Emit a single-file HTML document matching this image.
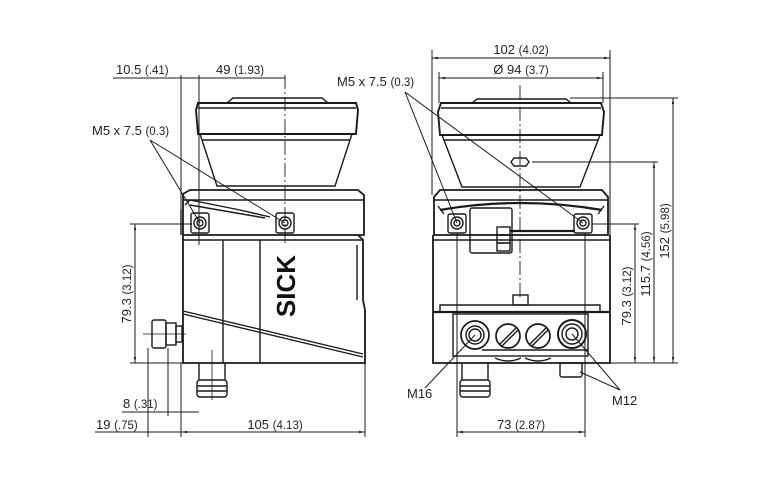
<!DOCTYPE html>
<html><head><meta charset="utf-8"><style>
html,body{margin:0;padding:0;background:#fff;width:768px;height:480px;overflow:hidden}
svg{display:block}
text{font-family:"Liberation Sans",sans-serif;fill:#222;font-size:13px}
.s{font-size:11.5px}
</style></head><body>
<svg width="768" height="480" viewBox="0 0 768 480" xmlns="http://www.w3.org/2000/svg">
<defs>
<marker id="a" viewBox="0 0 10 10" refX="10" refY="5" markerWidth="6" markerHeight="6" orient="auto-start-reverse"><path d="M0,3 L10,5 L0,7 z" fill="#222"/></marker>
</defs>
<g fill="none" stroke="#1a1a1a" stroke-width="1.4">
<!-- LEFT VIEW -->
<path d="M227,103 L233,98 L322,98 L328,103"/>
<path d="M198,103 L356,103 L358,110 L356,134 L198,134 L196,110 Z" stroke-width="1.9"/>
<line x1="198" y1="108" x2="356" y2="108"/>
<path d="M200,134 L217,186 L335,186 L352,134"/>
<line x1="202" y1="140" x2="350" y2="140"/>
<path d="M183,194 L190,190 L358,190 L364,195 L364,235 L183,235 Z" stroke-width="1.8"/>
<line x1="183" y1="200" x2="364" y2="200"/>
<path d="M185,205 L190,200 L240,210 L270,217" />
<line x1="190" y1="205" x2="265" y2="218"/>
<rect x="191" y="213" width="18" height="20" rx="2"/>
<circle cx="200" cy="223" r="6"/><circle cx="200" cy="223" r="3"/>
<rect x="276" y="213" width="18" height="20" rx="2"/>
<circle cx="285" cy="223" r="6"/><circle cx="285" cy="223" r="3"/>
<line x1="181" y1="210" x2="181" y2="235"/>
<path d="M183,235 L183,363 L365,363 L365,310 L363,300 L363,240 L358,235" stroke-width="1.8"/>
<line x1="183" y1="240" x2="363" y2="240"/>
<line x1="223" y1="240" x2="223" y2="363"/>
<line x1="260" y1="240" x2="260" y2="363"/>
<path d="M183,311 L363,354" /><path d="M183,314 L363,357"/>
<line x1="357" y1="245" x2="357" y2="300"/>
<!-- side gland -->
<rect x="152" y="320" width="14" height="28" rx="2"/>
<rect x="166" y="323" width="10" height="22"/>
<rect x="176" y="326" width="6" height="16"/>
<line x1="143" y1="334" x2="186" y2="334" stroke-width="0.8"/>
<!-- bottom connector -->
<path d="M199,363 L199,380 M225,363 L225,380"/>
<rect x="197" y="380" width="30" height="17" rx="3"/>
<line x1="197" y1="386" x2="227" y2="386"/><line x1="197" y1="391" x2="227" y2="391"/>
<line x1="212" y1="350" x2="212" y2="400" stroke-width="0.8"/>
<!-- centerline -->
<line x1="285" y1="75" x2="285" y2="245" stroke-width="0.9" stroke-dasharray="14,3,2,3"/>
<!-- left dims -->
<g stroke-width="1">
<line x1="113" y1="78" x2="285" y2="78"/>
<line x1="181" y1="75" x2="181" y2="210"/>
<line x1="199" y1="75" x2="199" y2="245"/>
<line x1="285" y1="75" x2="285" y2="82"/>
<line x1="135" y1="224" x2="135" y2="363" marker-start="url(#a)" marker-end="url(#a)"/>
<line x1="130" y1="224" x2="192" y2="224"/>
<line x1="130" y1="363" x2="183" y2="363"/>
<line x1="148" y1="348" x2="148" y2="437"/>
<line x1="168" y1="348" x2="168" y2="416"/>
<line x1="181" y1="363" x2="181" y2="437"/>
<line x1="365" y1="363" x2="365" y2="437"/>
<line x1="122" y1="412" x2="199" y2="412"/>
<line x1="95" y1="432" x2="181" y2="432"/>
<line x1="181" y1="432" x2="365" y2="432" marker-start="url(#a)" marker-end="url(#a)"/>
<path d="M150,140 L200,223 M150,140 L285,223"/>
</g>

<!-- RIGHT VIEW -->
<path d="M472,103 L477,99 L566,99 L571,103"/>
<path d="M441,103 L601,103 L604,112 L602,135 L440,135 L438,112 Z" stroke-width="1.9"/>
<line x1="441" y1="108" x2="601" y2="108"/>
<path d="M442,135 L462,187 L580,187 L600,135"/>
<line x1="443" y1="140" x2="599" y2="140"/>
<path d="M511,162 L514,158 L526,158 L529,162 L526,166 L514,166 Z"/>
<path d="M434,197 L440,190 L602,190 L608,197 L608,235 L434,235 Z" stroke-width="1.8"/>
<line x1="434" y1="200" x2="608" y2="200"/>
<path d="M440,210 Q520,196 602,210" stroke-width="2.2"/>
<path d="M438,206 L444,214 M604,206 L598,214"/>
<rect x="448" y="214" width="18" height="19" rx="2"/>
<circle cx="457" cy="223" r="6"/><circle cx="457" cy="223" r="3"/>
<rect x="574" y="214" width="18" height="19" rx="2"/>
<circle cx="583" cy="223" r="6"/><circle cx="583" cy="223" r="3"/>
<rect x="470" y="208" width="42" height="45" rx="2"/>
<rect x="497" y="227" width="13" height="8"/><rect x="497" y="235" width="13" height="8"/><rect x="497" y="243" width="13" height="8"/>
<line x1="510" y1="231" x2="575" y2="231" stroke-width="2.2"/>
<path d="M433,235 L433,363 L610,363 L610,235" stroke-width="1.8"/>
<line x1="433" y1="240" x2="610" y2="240"/>
<path d="M440,312 L440,305 L600,305 L600,312"/>
<rect x="513" y="295" width="15" height="10"/>
<line x1="433" y1="312" x2="610" y2="312" stroke-width="2.2"/>
<rect x="453" y="314" width="135" height="42"/>
<line x1="482" y1="350" x2="588" y2="350"/>
<circle cx="475" cy="335" r="14" stroke-width="1.7"/><circle cx="475" cy="335" r="9"/><circle cx="475" cy="335" r="6"/>
<circle cx="508" cy="336" r="12" stroke-width="1.7"/><line x1="500" y1="344" x2="516" y2="328"/><line x1="502" y1="346" x2="518" y2="330"/>
<circle cx="538" cy="336" r="12" stroke-width="1.7"/><line x1="530" y1="344" x2="546" y2="328"/><line x1="532" y1="346" x2="548" y2="330"/>
<circle cx="572" cy="334" r="14" stroke-width="2"/><circle cx="572" cy="334" r="10"/><circle cx="572" cy="334" r="6"/>
<path d="M495,358 Q508,364 521,358 M525,358 Q538,364 551,358"/>
<path d="M462,363 L462,380 M488,363 L488,380"/>
<rect x="460" y="380" width="30" height="17" rx="3"/>
<line x1="460" y1="386" x2="490" y2="386"/><line x1="460" y1="391" x2="490" y2="391"/>
<rect x="560" y="363" width="22" height="14" rx="2"/>
<line x1="520" y1="85" x2="520" y2="300" stroke-width="0.9" stroke-dasharray="14,3,2,3"/>
<g stroke-width="1">
<line x1="432" y1="50" x2="432" y2="195"/>
<line x1="610" y1="50" x2="610" y2="235"/>
<line x1="432" y1="58" x2="610" y2="58" marker-start="url(#a)" marker-end="url(#a)"/>
<line x1="439" y1="72" x2="439" y2="103"/>
<line x1="603" y1="72" x2="603" y2="103"/>
<line x1="439" y1="78" x2="603" y2="78" marker-start="url(#a)" marker-end="url(#a)"/>
<line x1="570" y1="98" x2="678" y2="98"/>
<line x1="532" y1="162" x2="658" y2="162"/>
<line x1="592" y1="224" x2="639" y2="224"/>
<line x1="610" y1="363" x2="678" y2="363"/>
<line x1="635" y1="224" x2="635" y2="363" marker-start="url(#a)" marker-end="url(#a)"/>
<line x1="654" y1="162" x2="654" y2="363" marker-start="url(#a)" marker-end="url(#a)"/>
<line x1="673" y1="98" x2="673" y2="363" marker-start="url(#a)" marker-end="url(#a)"/>
<line x1="457" y1="233" x2="457" y2="437"/>
<line x1="585" y1="233" x2="585" y2="437"/>
<line x1="457" y1="432" x2="585" y2="432" marker-start="url(#a)" marker-end="url(#a)"/>
<path d="M405,92 L457,223 M405,92 L583,223"/>
<path d="M425,388 L475,335"/>
<path d="M620,390 L572,334 M620,390 L580,372"/>
</g>
</g>
<text transform="translate(295,286) rotate(-90)" text-anchor="middle" style="font-size:26px;font-weight:bold;fill:#111">SICK</text>
<text x="116" y="74">10.5 <tspan class="s">(.41)</tspan></text>
<text x="216" y="74">49 <tspan class="s">(1.93)</tspan></text>
<text x="92" y="135">M5 x 7.5 <tspan class="s">(0.3)</tspan></text>
<text x="337" y="86">M5 x 7.5 <tspan class="s">(0.3)</tspan></text>
<text transform="translate(131,294) rotate(-90)" text-anchor="middle">79.3 <tspan class="s">(3.12)</tspan></text>
<text x="123" y="408">8 <tspan class="s">(.31)</tspan></text>
<text x="96" y="429">19 <tspan class="s">(.75)</tspan></text>
<text x="275" y="429" text-anchor="middle">105 <tspan class="s">(4.13)</tspan></text>
<text x="521" y="54" text-anchor="middle">102 <tspan class="s">(4.02)</tspan></text>
<text x="521" y="74" text-anchor="middle">Ø 94 <tspan class="s">(3.7)</tspan></text>
<text transform="translate(631,296) rotate(-90)" text-anchor="middle">79.3 <tspan class="s">(3.12)</tspan></text>
<text transform="translate(650,264) rotate(-90)" text-anchor="middle">115.7 <tspan class="s">(4.56)</tspan></text>
<text transform="translate(669,231) rotate(-90)" text-anchor="middle">152 <tspan class="s">(5.98)</tspan></text>
<text x="407" y="398">M16</text>
<text x="612" y="405">M12</text>
<text x="521" y="429" text-anchor="middle">73 <tspan class="s">(2.87)</tspan></text>
</svg>
</body></html>
